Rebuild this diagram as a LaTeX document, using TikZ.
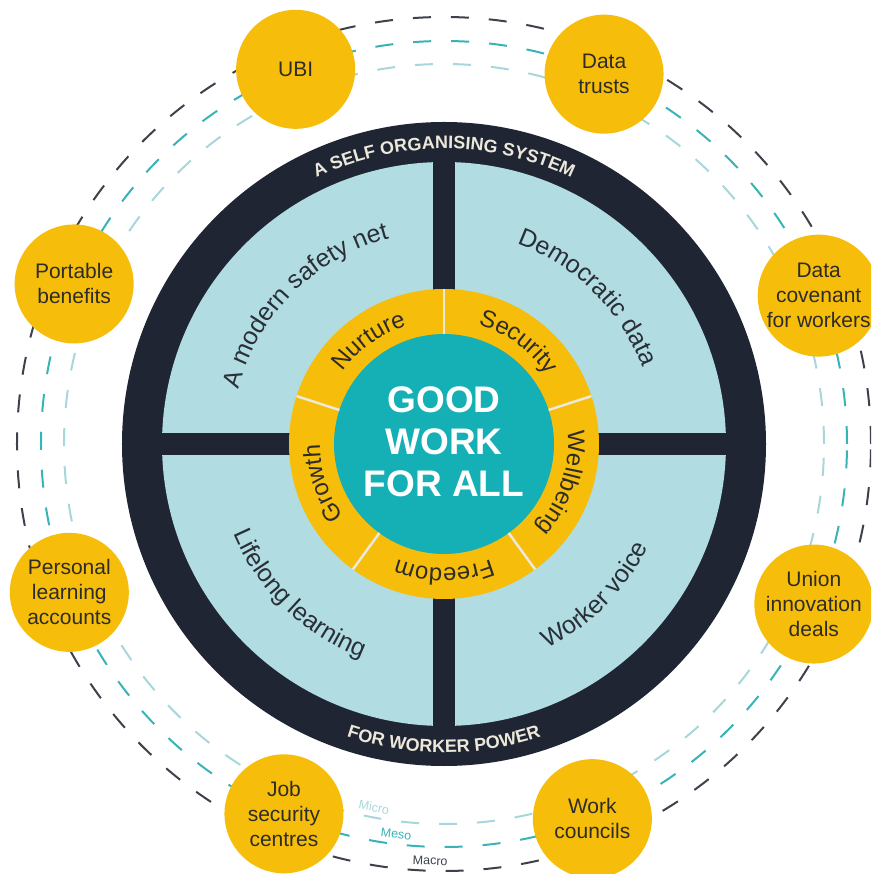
\documentclass[tikz,border=0pt]{standalone}
\usepackage{fontspec}
\setmainfont{Liberation Sans}
\usetikzlibrary{decorations.text}
\definecolor{cnavy}{HTML}{1F2533}
\definecolor{clight}{HTML}{B0DCE2}
\definecolor{cyellow}{HTML}{F6BE0B}
\definecolor{cteal}{HTML}{14B0B5}
\definecolor{ctext}{HTML}{2E2C28}
\definecolor{cquad}{HTML}{2A2E36}
\definecolor{ccream}{HTML}{ECE8DA}
\definecolor{cmacro}{HTML}{3C414B}
\definecolor{cmeso}{HTML}{38B3B8}
\definecolor{cmicro}{HTML}{A8D7DB}
\begin{document}
\begin{tikzpicture}[x=1pt,y=1pt,
  bubble/.style={circle, fill=cyellow, minimum size=119pt, inner sep=0pt, align=center, text=ctext, font=\fontsize{21}{25}\selectfont},
  orbit/.style={line width=2pt, dash pattern=on 18pt off 20pt},
  scalelabel/.style={font=\fontsize{12.5}{13}\selectfont, inner sep=0pt},
  divider/.style={draw=ccream, line width=2.5pt}]
\useasboundingbox (-444,-430) rectangle (427,444);
\clip (-444,-430) rectangle (427,444);
% orbits
\draw[orbit, cmacro] (0,0) circle[radius=427pt];
\draw[orbit, cmeso] (0,0) circle[radius=403pt];
\draw[orbit, cmicro] (0,0) circle[radius=380pt];
\node[scalelabel, text=cmicro, rotate=-10.9] (micro) at (-100.9:370pt) {Micro};
\node[scalelabel, text=cmeso, rotate=-7] (meso) at (-97:393pt) {Meso};
\node[scalelabel, text=cmacro, rotate=-2] (macro) at (-91.9:417pt) {Macro};
% main disc
\fill[cnavy] (0,0) circle[radius=322pt];
\fill[clight] (0,0) circle[radius=282pt];
\fill[cnavy] (-11,-290) rectangle (11,290);
\fill[cnavy] (-290,-11) rectangle (290,11);
\fill[cyellow] (0,0) circle[radius=155pt];
\fill[cteal] (0,0) circle[radius=110pt];
\foreach \a in {90,18,-54,-126,162}
  \draw[divider] (\a:110pt) -- (\a:155pt);
\node[font=\bfseries\fontsize{37}{42}\selectfont, text=white, align=center] (core) at (0,2) {GOOD\\WORK\\FOR ALL};
% ring labels
\path[decorate, decoration={text along path, text align=center, text color=ctext, text={|\fontsize{24}{24}\selectfont|Nurture}}] (166:124pt) arc[start angle=166, end angle=86, radius=124pt];
\path[decorate, decoration={text along path, text align=center, text color=ctext, text={|\fontsize{24}{24}\selectfont|Security}}] (94:124pt) arc[start angle=94, end angle=14, radius=124pt];
\path[decorate, decoration={text along path, text align=center, text color=ctext, text={|\fontsize{24}{24}\selectfont|Wellbeing}}] (22:124pt) arc[start angle=22, end angle=-58, radius=124pt];
\path[decorate, decoration={text along path, text align=center, text color=ctext, text={|\fontsize{24}{24}\selectfont|Freedom}}] (-50:124pt) arc[start angle=-50, end angle=-130, radius=124pt];
\path[decorate, decoration={text along path, text align=center, text color=ctext, text={|\fontsize{24}{24}\selectfont|Growth}}] (238:124pt) arc[start angle=238, end angle=158, radius=124pt];
% quadrant labels
\path[decorate, decoration={text along path, text align=center, text color=cquad, text={|\fontsize{25}{25}\selectfont|A modern safety net}}] (215:213pt) arc[start angle=215, end angle=55, radius=213pt];
\path[decorate, decoration={text along path, text align=center, text color=cquad, text={|\fontsize{25}{25}\selectfont|Democratic data}}] (125.5:213pt) arc[start angle=125.5, end angle=-34.5, radius=213pt];
\path[decorate, decoration={text along path, text align=center, text color=cquad, text={|\fontsize{25}{25}\selectfont|Lifelong learning}}] (146:229pt) arc[start angle=146, end angle=306, radius=229pt];
\path[decorate, decoration={text along path, text align=center, text color=cquad, text={|\fontsize{25}{25}\selectfont|Worker voice}}] (-125:229pt) arc[start angle=-125, end angle=35, radius=229pt];
% dark ring labels
\path[decorate, decoration={text along path, text align=center, text color=ccream, text={|\bfseries\fontsize{18}{18}\selectfont|A SELF ORGANISING SYSTEM}}] (160:295pt) arc[start angle=160, end angle=20, radius=295pt];
\path[decorate, decoration={text along path, text align=center, text color=ccream, text={|\bfseries\fontsize{18}{18}\selectfont|FOR WORKER POWER}}] (-160:308.5pt) arc[start angle=-160, end angle=-20, radius=308.5pt];
% bubbles
\node[bubble] (ubi) at (111.6:403pt) {UBI};
\node[bubble] (trusts) at (66.6:403pt) {Data\\trusts};
\node[bubble] (covenant) at (21.6:403pt) {Data\\covenant\\for workers};
\node[bubble] (portable) at (156.6:403pt) {Portable\\benefits};
\node[bubble] (learning) at (201.6:403pt) {Personal\\learning\\accounts};
\node[bubble] (union) at (-23.4:403pt) {Union\\innovation\\deals};
\node[bubble] (jobs) at (246.6:403pt) {Job\\security\\centres};
\node[bubble] (councils) at (-68.4:403pt) {Work\\councils};
\end{tikzpicture}
\end{document}
